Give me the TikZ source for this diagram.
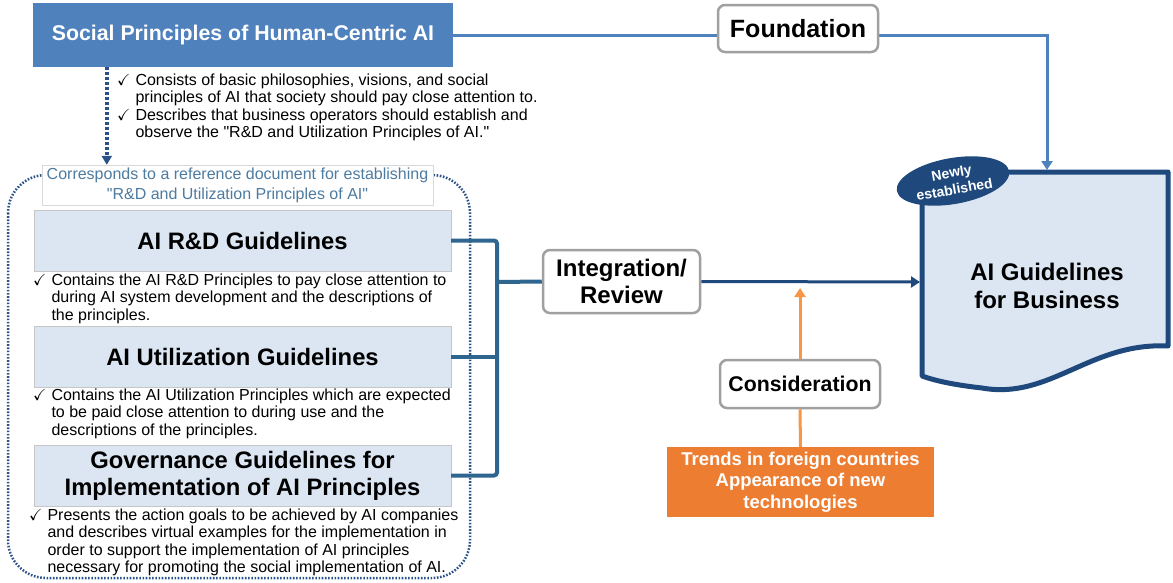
\documentclass[tikz,border=0pt]{standalone}
\usepackage{amssymb}
\usepackage{fontspec}
\setmainfont{Liberation Sans}
\usetikzlibrary{arrows.meta,shapes.geometric}
\definecolor{socialblue}{HTML}{4F81BD}
\definecolor{navy}{HTML}{1F497D}
\definecolor{dotblue}{HTML}{2B5288}
\definecolor{bracketblue}{HTML}{2F6690}
\definecolor{guidefill}{HTML}{DCE6F2}
\definecolor{tagborder}{HTML}{A0A0A0}
\definecolor{corrtext}{HTML}{4E7BA0}
\definecolor{trendfill}{HTML}{ED7D31}
\definecolor{trendline}{HTML}{F79646}
\newcommand{\chk}{$\checkmark$}

\begin{document}
\begin{tikzpicture}[x=1pt,y=-1pt,
    title/.style={fill=socialblue,text=white,font=\bfseries\fontsize{21.3}{25}\selectfont,minimum width=420pt,minimum height=64pt},
    guide/.style={fill=guidefill,draw=gray!45,minimum width=417pt,minimum height=61pt,inner sep=0pt,align=center,font=\bfseries\fontsize{23.8}{27}\selectfont},
    tag/.style={draw=tagborder,line width=2.5pt,rounded corners=7pt,fill=white,inner sep=0pt,align=center,font=\bfseries\fontsize{24}{27}\selectfont},
    note/.style={anchor=north west,inner sep=0pt,font=\fontsize{16}{17.5}\selectfont},
    flow/.style={line width=3pt,-{Triangle[width=11pt,length=9pt]}}]
    \useasboundingbox (0,0) rectangle (1173,582);
    \draw[dotblue,line width=2.5pt,dash pattern=on 1.6pt off 1.6pt,rounded corners=38pt] (8,175) rectangle (470,578);
    \node[title] (social) at (243,35) {Social Principles of Human-Centric AI};
    \node[note] (socnote) at (117,73) {\begin{tabular}{@{}l@{\hspace{5pt}}l@{}}
        \chk & Consists of basic philosophies, visions, and social\\
        & principles of AI that society should pay close attention to.\\
        \chk & Describes that business operators should establish and\\
        & observe the \textquotedbl R\&D and Utilization Principles of AI.\textquotedbl
        \end{tabular}};
    \node[draw=gray!30,fill=white,text=corrtext,minimum width=391pt,minimum height=40pt,inner sep=0pt,align=center,font=\fontsize{16}{20}\selectfont] (corr) at (237.5,185)
        {Corresponds to a reference document for establishing\\\textquotedbl R\&D and Utilization Principles of AI\textquotedbl};
    \node[guide] (rd) at (242.5,240.5) {AI R\&D Guidelines};
    \node[guide] (util) at (242.5,356.5) {AI Utilization Guidelines};
    \node[guide] (gov) at (242.5,475.5) {Governance Guidelines for\\Implementation of AI Principles};
    \node[note] (rdnote) at (33,273) {\begin{tabular}{@{}l@{\hspace{5pt}}l@{}}
        \chk & Contains the AI R\&D Principles to pay close attention to\\
        & during AI system development and the descriptions of\\
        & the principles.
        \end{tabular}};
    \node[note] (utilnote) at (33,388) {\begin{tabular}{@{}l@{\hspace{5pt}}l@{}}
        \chk & Contains the AI Utilization Principles which are expected\\
        & to be paid close attention to during use and the\\
        & descriptions of the principles.
        \end{tabular}};
    \node[note] (govnote) at (29,508) {\begin{tabular}{@{}l@{\hspace{5pt}}l@{}}
        \chk & Presents the action goals to be achieved by AI companies\\
        & and describes virtual examples for the implementation in\\
        & order to support the implementation of AI principles\\
        & necessary for promoting the social implementation of AI.
        \end{tabular}};
    \draw[dotblue,line width=3.5pt,dash pattern=on 2.5pt off 2.5pt,-{Triangle[width=10pt,length=9pt]}]
        ([xshift=74pt]social.south west) -- ([xshift=65pt]corr.north west);
    \coordinate (docN) at (1047,170);
    \coordinate (docW) at (920,282);
    \coordinate (join) at (497,282);
    \coordinate (tip) at (800,288);
    \draw[fill=guidefill,draw=navy,line width=5pt,line join=round]
        (922,172) -- (1168,172) -- (1168,346)
        .. controls (1090,342) and (1050,400) .. (982,388)
        .. controls (955,385) and (936,381) .. (922,376) -- cycle;
    \node[align=center,font=\bfseries\fontsize{24}{28}\selectfont] (doc) at (1047,286) {AI Guidelines\\for Business};
    \node[ellipse,fill=navy,text=white,rotate=10,minimum width=114pt,minimum height=46pt,inner sep=0pt,align=center,font=\bfseries\fontsize{14}{17}\selectfont] (newly) at (953,181) {Newly\\established};
    \draw[socialblue,flow] (social.east) -| (docN);
    \node[tag,minimum width=160pt,minimum height=47pt,font=\bfseries\fontsize{25}{28}\selectfont] (found) at (798,28.5) {Foundation};
    \node[tag,minimum width=157pt,minimum height=63pt] (integ) at (621.5,281.5) {Integration/\\Review};
    \node[tag,minimum width=160pt,minimum height=48pt,font=\bfseries\fontsize{21.3}{25}\selectfont] (consid) at (800,384) {Consideration};
    \node[fill=trendfill,text=white,minimum width=267pt,minimum height=70pt,inner sep=0pt,align=center,font=\bfseries\fontsize{18.5}{21.5}\selectfont] (trend) at (800.5,482)
        {Trends in foreign countries\\Appearance of new\\technologies};
    \draw[bracketblue,line width=4pt,rounded corners=3pt] (rd.east) -| (join) |- (gov.east);
    \draw[bracketblue,line width=4pt] (util.east) -- (util.east -| join);
    \draw[bracketblue,line width=4pt] (join) -- (integ.west);
    \draw[navy,flow] (integ.east) -- (docW);
    \draw[trendline,flow] (consid.north) -- (tip);
    \draw[trendline,line width=3pt] (trend.north) -- (consid.south);
\end{tikzpicture}
\end{document}
